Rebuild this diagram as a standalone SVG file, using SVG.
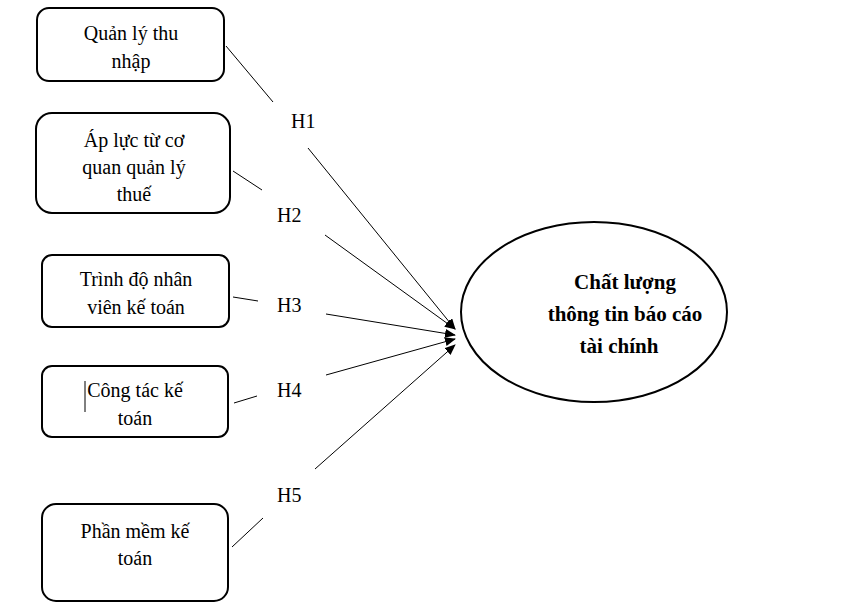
<svg xmlns="http://www.w3.org/2000/svg" width="841" height="614" viewBox="0 0 841 614">
<style>
.b{fill:#fff;stroke:#000;stroke-width:2}
.t{font-family:"Liberation Serif",serif;font-size:20px;text-anchor:middle;fill:#000}
.h{font-family:"Liberation Serif",serif;font-size:20px;fill:#000}
.c{stroke:#000;stroke-width:1;fill:none}
.bold{font-weight:bold;font-size:21px}
</style>
<defs><marker id="a" markerWidth="11" markerHeight="9" refX="10" refY="4.5" orient="auto" markerUnits="userSpaceOnUse"><path d="M0,0L11,4.5L0,9z"/></marker></defs>
<rect width="841" height="614" fill="#fff"/>
<g id="n1"><rect class="b" x="37" y="8" width="187" height="73" rx="12"/><text class="t" x="131" y="40">Quản lý thu</text><text class="t" x="131" y="68">nhập</text></g>
<g id="n2"><rect class="b" x="36" y="113" width="194" height="100" rx="16"/><text class="t" x="134" y="147">Áp lực từ cơ</text><text class="t" x="134" y="174">quan quản lý</text><text class="t" x="134" y="201">thuế</text></g>
<g id="n3"><rect class="b" x="42" y="255" width="187" height="72" rx="10"/><text class="t" x="136" y="286">Trình độ nhân</text><text class="t" x="136" y="314">viên kế toán</text></g>
<g id="n4"><rect class="b" x="42" y="366" width="186" height="71" rx="10"/><text class="t" x="135" y="397">Công tác kế</text><text class="t" x="135" y="425">toán</text><line class="c" x1="85" y1="381" x2="85" y2="412"/></g>
<g id="n5"><rect class="b" x="42" y="504" width="186" height="97" rx="14"/><text class="t" x="135" y="538">Phần mềm kế</text><text class="t" x="135" y="565">toán</text></g>
<g id="n6"><ellipse class="b" cx="594" cy="312" rx="133" ry="90"/><text class="t bold" x="625" y="289">Chất lượng</text><text class="t bold" x="625" y="321">thông tin báo cáo</text><text class="t bold" x="619" y="353">tài chính</text></g>
<g id="edges">
<line class="c" x1="226" y1="46" x2="273" y2="102"/><line class="c" x1="308" y1="148" x2="455" y2="329" marker-end="url(#a)"/>
<line class="c" x1="233" y1="171" x2="262" y2="190"/><line class="c" x1="325" y1="235" x2="455" y2="329" marker-end="url(#a)"/>
<line class="c" x1="233" y1="297" x2="258" y2="301"/><line class="c" x1="326" y1="314" x2="455" y2="335" marker-end="url(#a)"/>
<line class="c" x1="234" y1="403" x2="257" y2="396"/><line class="c" x1="326" y1="375" x2="455" y2="339" marker-end="url(#a)"/>
<line class="c" x1="232" y1="547" x2="263" y2="518"/><line class="c" x1="315" y1="469" x2="455" y2="345" marker-end="url(#a)"/>
<text class="h" x="291" y="128">H1</text><text class="h" x="277" y="222">H2</text><text class="h" x="277" y="312">H3</text><text class="h" x="277" y="397">H4</text><text class="h" x="277" y="502">H5</text>
</g>
</svg>
